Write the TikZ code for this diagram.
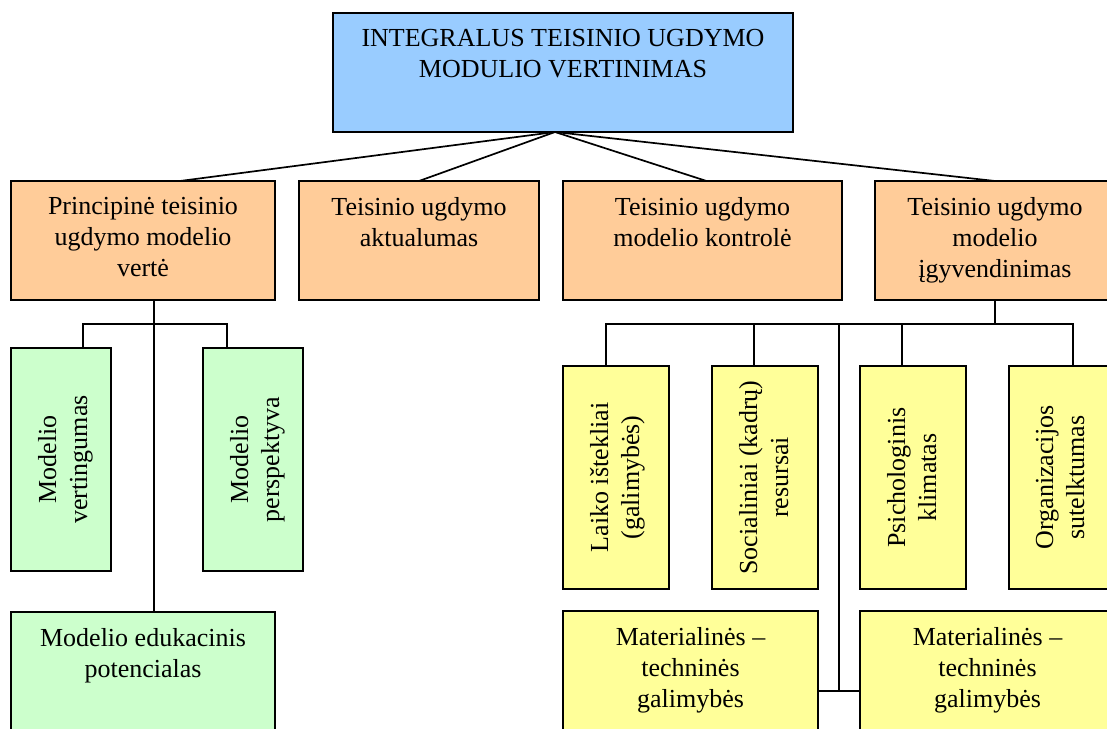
\documentclass[tikz,border=0pt]{standalone}
\usepackage{fontspec}
\setmainfont{Liberation Serif}
\usetikzlibrary{positioning}
\definecolor{topblue}{HTML}{99CCFF}
\definecolor{ornge}{HTML}{FFCC99}
\definecolor{grn}{HTML}{CCFFCC}
\definecolor{ylw}{HTML}{FFFF99}

\begin{document}
\begin{tikzpicture}[x=1pt, y=-1pt,
      box/.style={draw, line width=1.8pt, inner sep=0pt, outer sep=0pt, anchor=north west},
      txt/.style={inner sep=0pt, outer sep=0pt, align=center, font=\fontsize{26}{31}\selectfont},
      vtxt/.style={txt, rotate=90, anchor=north},
      link/.style={line width=1.7pt}]
      \useasboundingbox (0,0) rectangle (1107,728);
      \clip (0,0) rectangle (1107,728);
      % top
      \node[box, fill=topblue, minimum width=460pt, minimum height=119pt] (top) at (333,13) {};
      \node[txt, below=16pt of top.north] (toptxt) {INTEGRALUS TEISINIO UGDYMO\\MODULIO VERTINIMAS};
      % level 1
      \node[box, fill=ornge, minimum width=264pt, minimum height=119pt] (o1) at (11,181) {};
      \node[box, fill=ornge, minimum width=240pt, minimum height=119pt] (o2) at (299,181) {};
      \node[box, fill=ornge, minimum width=279pt, minimum height=119pt] (o3) at (563,181) {};
      \node[box, fill=ornge, minimum width=240pt, minimum height=119pt] (o4) at (875,181) {};
      \node[txt, below=16pt of o1.north] (o1txt) {Principinė teisinio\\ugdymo modelio\\vertė};
      \node[txt, below=16pt of o2.north] (o2txt) {Teisinio ugdymo\\aktualumas};
      \node[txt, below=16pt of o3.north] (o3txt) {Teisinio ugdymo\\modelio kontrolė};
      \node[txt, below=16pt of o4.north] (o4txt) {Teisinio ugdymo\\modelio\\įgyvendinimas};
      % level 2, left
      \node[box, fill=grn, minimum width=100pt, minimum height=223pt] (g1) at (11,348) {};
      \node[box, fill=grn, minimum width=100pt, minimum height=223pt] (g2) at (203,348) {};
      \node[box, fill=grn, minimum width=264pt, minimum height=150pt] (g3) at (11,612) {};
      \node[vtxt] (g1txt) at ([xshift=27pt]g1.west) {Modelio\\vertingumas};
      \node[vtxt] (g2txt) at ([xshift=27pt]g2.west) {Modelio\\perspektyva};
      \node[txt, below=16pt of g3.north] (g3txt) {Modelio edukacinis\\potencialas};
      % level 2, right
      \node[box, fill=ylw, minimum width=106pt, minimum height=223pt] (y1) at (563,366) {};
      \node[box, fill=ylw, minimum width=106pt, minimum height=223pt] (y2) at (712,366) {};
      \node[box, fill=ylw, minimum width=106pt, minimum height=223pt] (y3) at (860,366) {};
      \node[box, fill=ylw, minimum width=106pt, minimum height=223pt] (y4) at (1009,366) {};
      \node[vtxt] (y1txt) at ([xshift=27pt]y1.west) {Laiko ištekliai\\(galimybės)};
      \node[vtxt] (y2txt) at ([xshift=27pt]y2.west) {Socialiniai (kadrų)\\resursai};
      \node[vtxt] (y3txt) at ([xshift=27pt]y3.west) {Psichologinis\\klimatas};
      \node[vtxt] (y4txt) at ([xshift=27pt]y4.west) {Organizacijos\\sutelktumas};
      \node[box, fill=ylw, minimum width=255pt, minimum height=150pt] (m1) at (563,611) {};
      \node[box, fill=ylw, minimum width=255pt, minimum height=150pt] (m2) at (860,611) {};
      \node[txt, below=16pt of m1.north] (m1txt) {Materialinės –\\techninės\\galimybės};
      \node[txt, below=16pt of m2.north] (m2txt) {Materialinės –\\techninės\\galimybės};
      % connectors
      \coordinate (hub) at ([xshift=-8pt]top.south);
      \draw[link] (hub) -- ([xshift=37pt]o1.north);
      \draw[link] (hub) -- (o2.north);
      \draw[link] (hub) -- ([xshift=4pt]o3.north);
      \draw[link] (hub) -- (o4.north);
      \coordinate (lj) at (154,324);
      \draw[link] ([xshift=11pt]o1.south) -- ([xshift=11pt]g3.north);
      \draw[link] ([xshift=22pt]g1.north) |- (lj) -| ([xshift=-26pt]g2.north);
      \coordinate (rj) at (995,324);
      \draw[link] (o4.south) -- (rj);
      \draw[link] ([xshift=-10pt]y1.north) |- (rj) -| ([xshift=11pt]y4.north);
      \draw[link] ([xshift=-11pt]y2.north) |- (rj);
      \draw[link] ([xshift=-11pt]y3.north) |- (rj);
      \coordinate (mj) at (839,691);
      \draw[link] (mj |- rj) -- (mj);
      \draw[link] (m1.east |- mj) -- (m2.west |- mj);
\end{tikzpicture}
\end{document}
